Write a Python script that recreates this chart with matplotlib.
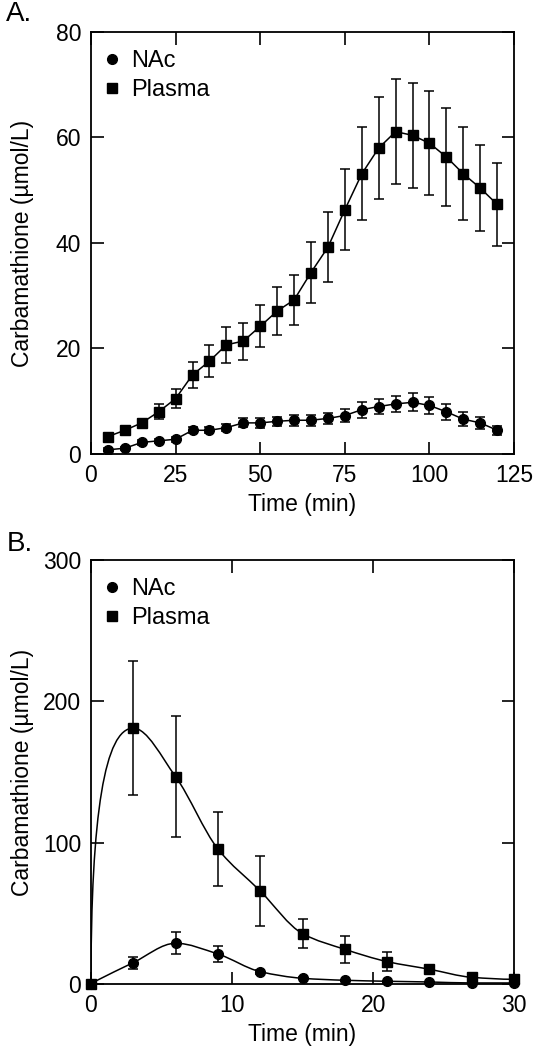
import numpy as np
import matplotlib
matplotlib.use('Agg')
import matplotlib.pyplot as plt
from matplotlib.lines import Line2D
from matplotlib.path import Path
from matplotlib.patches import PathPatch

plt.rcParams['font.family'] = ['Liberation Sans', 'DejaVu Sans']

# panel A data (5 min sampling)
time_a = [5, 10, 15, 20, 25, 30, 35, 40, 45, 50, 55, 60, 65, 70, 75, 80, 85, 90, 95, 100, 105, 110, 115, 120]
plasma_a = [3.3, 4.5, 5.9, 8.0, 10.5, 15.0, 17.6, 20.7, 21.4, 24.2, 27.1, 29.2, 34.4, 39.2, 46.3, 53.1, 58.0, 61.1, 60.4, 58.9, 56.3, 53.1, 50.4, 47.3]
plasma_a_err = [0.4, 0.6, 0.8, 1.4, 1.8, 2.5, 3.0, 3.4, 3.5, 4.0, 4.5, 4.8, 5.7, 6.6, 7.7, 8.8, 9.6, 10.0, 10.0, 9.9, 9.3, 8.8, 8.2, 7.9]
nac_a = [0.8, 1.1, 2.2, 2.5, 2.8, 4.5, 4.5, 5.0, 5.9, 5.9, 6.2, 6.4, 6.4, 6.75, 7.3, 8.4, 9.0, 9.5, 9.8, 9.2, 8.0, 6.6, 5.9, 4.5]
nac_a_err = [0.3, 0.3, 0.4, 0.4, 0.5, 0.6, 0.6, 0.7, 0.85, 0.9, 0.9, 1.0, 1.0, 1.0, 1.2, 1.5, 1.5, 1.5, 1.7, 1.6, 1.5, 1.3, 1.1, 0.9]

# panel B data (3 min sampling)
time_b = [0, 3, 6, 9, 12, 15, 18, 21, 24, 27, 30]
plasma_b = [0, 181, 146.7, 95.5, 65.8, 35.6, 24.5, 15.8, 10.4, 4.7, 3.3]
plasma_b_err = [0, 47.6, 43, 26, 25, 10.3, 9.5, 6.8, 2.5, 1.5, 1.0]
nac_b = [0, 15.1, 28.8, 21.2, 8.7, 4.0, 2.6, 1.9, 1.4, 0.7, 0.7]
nac_b_err = [0, 4.2, 7.7, 5.6, 1.5, 0.8, 0.5, 0.4, 0.3, 0.2, 0.2]

xticks_a = [0, 25, 50, 75, 100, 125]
yticks_a = [0, 20, 40, 60, 80]
xticks_b = [0, 10, 20, 30]
yticks_b = [0, 100, 200, 300]


# slopes for a shape preserving (pchip style) curve through the points
def pchip_slopes(x, y):
    h = np.diff(x)
    d = np.diff(y) / h
    m = np.zeros(len(x))
    for k in range(1, len(x) - 1):
        if d[k - 1] * d[k] > 0:
            w1 = 2 * h[k] + h[k - 1]
            w2 = h[k] + 2 * h[k - 1]
            m[k] = (w1 + w2) / (w1 / d[k - 1] + w2 / d[k])
    m[-1] = ((2 * h[-1] + h[-2]) * d[-1] - h[-1] * d[-2]) / (h[-1] + h[-2])
    if m[-1] * d[-1] <= 0:
        m[-1] = 0
    return m


# smooth line through the points as bezier segments; first segment is a
# quadratic that meets the slope at the second point
def smooth_path(x, y):
    x = np.asarray(x, float)
    y = np.asarray(y, float)
    m = pchip_slopes(x, y)
    h = x[1] - x[0]
    c = np.array([x[0], y[1] - h * m[1]])
    p0 = np.array([x[0], y[0]])
    p1 = np.array([x[1], y[1]])
    verts = [p0, p0 + 2 / 3 * (c - p0), p1 + 2 / 3 * (c - p1), p1]
    codes = [Path.MOVETO, Path.CURVE4, Path.CURVE4, Path.CURVE4]
    for k in range(1, len(x) - 1):
        h = x[k + 1] - x[k]
        verts += [(x[k] + h / 3, y[k] + m[k] * h / 3),
                  (x[k + 1] - h / 3, y[k + 1] - m[k + 1] * h / 3),
                  (x[k + 1], y[k + 1])]
        codes += [Path.CURVE4] * 3
    return Path(verts, codes)


def style_axes(ax, xticks, yticks):
    ax.set_xticks(xticks)
    ax.set_yticks(yticks)
    ax.set_xlim(xticks[0], xticks[-1])
    ax.set_ylim(yticks[0], yticks[-1])
    ax.tick_params(direction='in', length=9, width=1.2, top=True, right=True,
                   labelsize=16.5, pad=7)
    for s in ax.spines.values():
        s.set_linewidth(1.3)
    ax.set_ylabel('Carbamathione (µmol/L)', fontsize=16.5)
    ax.set_xlabel('Time (min)', fontsize=16.5)
    ax.yaxis.set_label_coords(-0.135, 0.5)
    ax.xaxis.set_label_coords(0.5, -0.093)
    handles = [Line2D([], [], color='black', marker='o', linestyle='none', markersize=7),
               Line2D([], [], color='black', marker='s', linestyle='none', markersize=7)]
    ax.legend(handles, ['NAc', 'Plasma'], loc='upper left', frameon=False,
              fontsize=17, handletextpad=0.3, handlelength=1.0, labelspacing=0.3,
              borderaxespad=0.0, bbox_to_anchor=(0.0, 0.98))


fig = plt.figure(figsize=(5.35, 10.5), dpi=100)
ax1 = fig.add_axes([0.170, 0.5676, 0.791, 0.402])
ax2 = fig.add_axes([0.170, 0.0629, 0.791, 0.4038])

err_kw = dict(fmt='none', ecolor='black', elinewidth=1.1, capsize=3.8, capthick=1.1)

# panel A
ax1.plot(time_a, plasma_a, color='black', lw=1.1)
ax1.plot(time_a, nac_a, color='black', lw=1.1)
ax1.errorbar(time_a, plasma_a, yerr=plasma_a_err, **err_kw)
ax1.errorbar(time_a, nac_a, yerr=nac_a_err, **err_kw)
ax1.plot(time_a, plasma_a, 's', color='black', markersize=7)
ax1.plot(time_a, nac_a, 'o', color='black', markersize=7)
style_axes(ax1, xticks_a, yticks_a)

# panel B
ax2.add_patch(PathPatch(smooth_path(time_b, plasma_b), facecolor='none', edgecolor='black', lw=1.1))
ax2.add_patch(PathPatch(smooth_path(time_b, nac_b), facecolor='none', edgecolor='black', lw=1.1))
ax2.errorbar(time_b, plasma_b, yerr=plasma_b_err, **err_kw)
ax2.errorbar(time_b, nac_b, yerr=nac_b_err, **err_kw)
ax2.plot(time_b, plasma_b, 's', color='black', markersize=7, clip_on=False, zorder=5)
ax2.plot(time_b, nac_b, 'o', color='black', markersize=7, clip_on=False, zorder=5)
style_axes(ax2, xticks_b, yticks_b)

fig.text(0.012, 0.999, 'A.', fontsize=20, va='top')
fig.text(0.012, 0.4943, 'B.', fontsize=20, va='top')

fig.savefig('out.png', dpi=100)
